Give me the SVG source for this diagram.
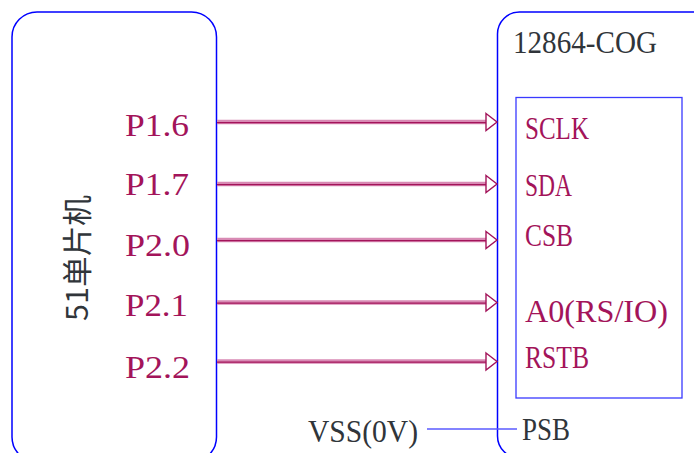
<svg xmlns="http://www.w3.org/2000/svg" width="694" height="453" viewBox="0 0 694 453">
  <style>
    .box { fill: none; stroke: #0000ff; stroke-width: 1.5; }
    .inner { fill: none; stroke: #3a3aff; stroke-width: 1.3; }
    .pin { font-family: "Liberation Serif", "Noto Sans CJK SC", serif; font-size: 32px; fill: #a3145a; }
    .dark { font-family: "Liberation Serif", "Noto Sans CJK SC", serif; font-size: 32px; fill: #30353a; }
    .cjk { font-family: "Noto Sans CJK SC", sans-serif; font-size: 30px; fill: #30353a; }
    .shaft { stroke: #d88ab4; stroke-width: 4.5; fill: none; }
    .core { stroke: #a3145a; stroke-width: 1.4; fill: none; }
    .head { fill: #ffffff; stroke: #a3145a; stroke-width: 1.4; stroke-linejoin: miter; }
    .wire { stroke: #5a5aff; stroke-width: 1.3; fill: none; }
  </style>
  <defs>
    <g id="arrow">
      <line class="shaft" x1="217" y1="0" x2="487" y2="0"/>
      <line class="core" x1="217" y1="0.6" x2="487" y2="0.6"/>
      <polygon class="head" points="486,-8.5 497,0 486,8.5"/>
    </g>
  </defs>

  <rect width="694" height="453" fill="#ffffff"/>

  <!-- MCU block -->
  <g id="mcu">
    <rect class="box" x="12" y="12" width="204.5" height="450" rx="25" ry="25"/>
    <text class="cjk" x="88" y="258" text-anchor="middle" transform="rotate(-90 88 258)" textLength="126" lengthAdjust="spacingAndGlyphs">51单片机</text>
    <text class="pin" x="125" y="136" textLength="64" lengthAdjust="spacingAndGlyphs">P1.6</text>
    <text class="pin" x="125" y="195" textLength="64" lengthAdjust="spacingAndGlyphs">P1.7</text>
    <text class="pin" x="125" y="256" textLength="65" lengthAdjust="spacingAndGlyphs">P2.0</text>
    <text class="pin" x="125" y="316" textLength="63" lengthAdjust="spacingAndGlyphs">P2.1</text>
    <text class="pin" x="125" y="378" textLength="65" lengthAdjust="spacingAndGlyphs">P2.2</text>
  </g>

  <!-- LCD module -->
  <g id="lcd">
    <rect class="box" x="497.5" y="12" width="240" height="446" rx="22" ry="22"/>
    <text class="dark" x="513" y="53" textLength="144" lengthAdjust="spacingAndGlyphs">12864-COG</text>
    <rect class="inner" x="516" y="97.5" width="166" height="300.5"/>
    <text class="pin" x="525" y="139" textLength="64" lengthAdjust="spacingAndGlyphs">SCLK</text>
    <text class="pin" x="525" y="196" textLength="47" lengthAdjust="spacingAndGlyphs">SDA</text>
    <text class="pin" x="525" y="246" textLength="48" lengthAdjust="spacingAndGlyphs">CSB</text>
    <text class="pin" x="525" y="322" textLength="143" lengthAdjust="spacingAndGlyphs">A0(RS/IO)</text>
    <text class="pin" x="525" y="368" textLength="64" lengthAdjust="spacingAndGlyphs">RSTB</text>
    <text class="dark" x="522" y="440" textLength="48" lengthAdjust="spacingAndGlyphs">PSB</text>
  </g>

  <!-- ground label -->
  <g id="vss">
    <text class="dark" x="308" y="442" textLength="110" lengthAdjust="spacingAndGlyphs">VSS(0V)</text>
  </g>

  <!-- connections -->
  <g id="connectors">
    <use href="#arrow" y="122"/>
    <use href="#arrow" y="184"/>
    <use href="#arrow" y="240"/>
    <use href="#arrow" y="302.5"/>
    <use href="#arrow" y="361.5"/>
    <line class="wire" x1="427" y1="429" x2="517" y2="429"/>
  </g>
</svg>
